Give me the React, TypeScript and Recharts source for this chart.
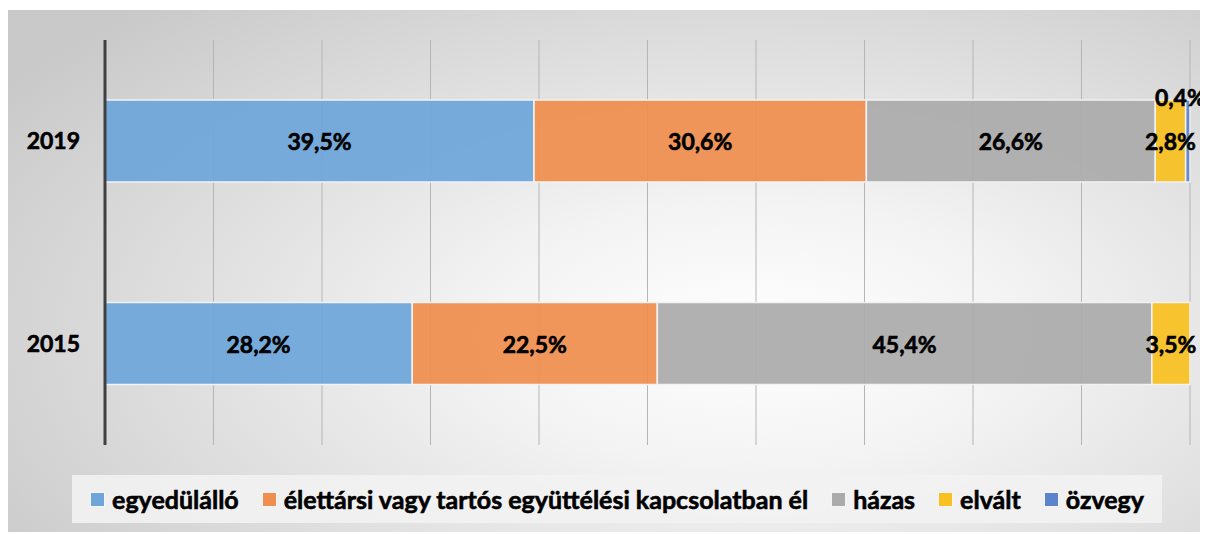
import React from 'react';
import { BarChart, Bar, XAxis, YAxis, CartesianGrid, LabelList } from 'recharts';

const years = ['2019', '2015'];
const egyedulallo = [39.5, 28.2];
const elettarsi = [30.6, 22.5];
const hazas = [26.6, 45.4];
const elvalt = [2.8, 3.5];
const ozvegy: (number | null)[] = [0.4, null];

const seriesNames = ['egyedülálló', 'élettársi vagy tartós együttélési kapcsolatban él', 'házas', 'elvált', 'özvegy'];
const seriesKeys = ['egyedulallo', 'elettarsi', 'hazas', 'elvalt', 'ozvegy'];
const seriesColors = ['#6ea6da', '#ef8e4e', '#ababab', '#f8c020', '#5b84cc'];
const xTicks = [0, 0.1, 0.2, 0.3, 0.4, 0.5, 0.6, 0.7, 0.8, 0.9, 1];

const data = years.map((y, i) => ({
  year: y,
  egyedulallo: egyedulallo[i],
  elettarsi: elettarsi[i],
  hazas: hazas[i],
  elvalt: elvalt[i],
  ozvegy: ozvegy[i],
}));

const FONT = 'Lato, "Open Sans", sans-serif';
const WEIGHT = 700;

const fmt = (v: any) => (v == null ? '' : Number(v).toFixed(1).replace('.', ',') + '%');

const CenterLabel = (props: any) => {
  const { x, y, width, height, value } = props;
  if (value == null) return null;
  return (
    <text x={x + width / 2} y={y + height / 2} textAnchor="middle" dominantBaseline="central"
      fontFamily={FONT} fontWeight={WEIGHT} fontSize={23} fill="#000" stroke="#000" strokeWidth={0.6}>
      {fmt(value)}
    </text>
  );
};

const TopLabel = (props: any) => {
  const { x, y, width, value } = props;
  if (value == null) return null;
  return (
    <text x={x + width / 2 + 18} y={y - 3} textAnchor="end" dominantBaseline="central"
      fontFamily={FONT} fontWeight={WEIGHT} fontSize={23} fill="#000" stroke="#000" strokeWidth={0.6}>
      {fmt(value)}
    </text>
  );
};

const gridGen = (props: any) => {
  const off = props && props.offset;
  if (!off) return [];
  return xTicks.map((t) => off.left + t * off.width);
};

export default function App() {
  return (
    <div style={{
      position: 'relative', top: 2, width: 1200, height: 524,
      background: 'radial-gradient(ellipse 75% 85% at 62% 62%, #ffffff 0%, #f3f3f3 30%, #c9c9c9 100%)',
    }}>
      <BarChart width={1200} height={524} data={data} layout="vertical" stackOffset="expand"
        margin={{ top: 30, right: 18, bottom: 89, left: 0 }} barSize={82} style={{ overflow: 'visible' }}>
        <CartesianGrid horizontal={false} stroke="#b5b5b5" strokeWidth={1} verticalCoordinatesGenerator={gridGen} />
        <XAxis type="number" domain={[0, 1]} ticks={xTicks} tick={false} axisLine={false} tickLine={false} height={0} />
        <YAxis type="category" dataKey="year" width={97} axisLine={{ stroke: '#404040', strokeWidth: 3 }}
          tickLine={false} tickMargin={19}
          tick={{ fill: '#000', fontFamily: FONT, fontWeight: WEIGHT, fontSize: 23, stroke: '#000', strokeWidth: 0.6 }} />
        {seriesKeys.map((k, i) => (
          <Bar key={k} dataKey={k} stackId="a" fill={seriesColors[i]} fillOpacity={0.93}
            stroke="#f2f2f2" strokeWidth={1.5} isAnimationActive={false}>
            <LabelList dataKey={k} content={k === 'ozvegy' ? TopLabel : CenterLabel} />
          </Bar>
        ))}
      </BarChart>
      <div style={{
        position: 'absolute', left: 64, top: 465, width: 1090, height: 48,
        background: 'rgba(242,242,242,0.9)', display: 'flex', alignItems: 'center', justifyContent: 'center',
        fontFamily: FONT, fontWeight: WEIGHT, fontSize: 25, color: '#000', gap: 23,
        WebkitTextStroke: '0.6px #000',
      }}>
        {seriesNames.map((n, i) => (
          <div key={n} style={{ display: 'flex', alignItems: 'center', gap: 7 }}>
            <span style={{ display: 'inline-block', width: 13, height: 13, background: seriesColors[i], border: '1px solid #f5f5f5', WebkitTextStroke: '0px' }} />
            <span>{n}</span>
          </div>
        ))}
      </div>
    </div>
  );
}
